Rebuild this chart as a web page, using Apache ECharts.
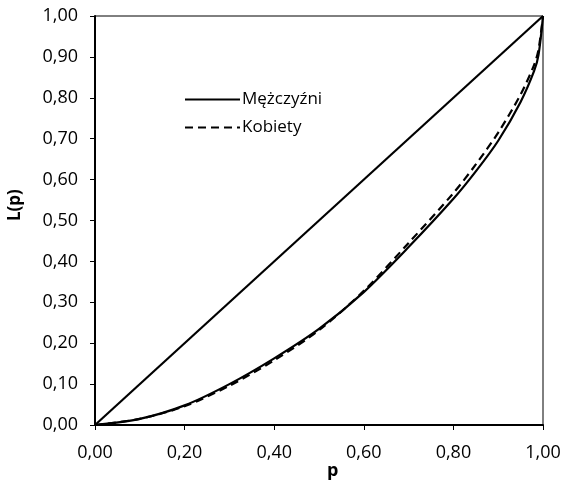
<!DOCTYPE html>
<html>
<head>
<meta charset="utf-8">
<script src="https://cdn.jsdelivr.net/npm/echarts@6/dist/echarts.min.js"></script>
<style>html,body{margin:0;padding:0;background:#fff}#c{width:565px;height:484px}</style>
</head>
<body>
<div id="c"></div>
<script>
var diagP = [0, 1];
var diagL = [0, 1];
var menP = [0, 0.1, 0.2, 0.3, 0.4, 0.5, 0.6, 0.7, 0.8, 0.85, 0.9, 0.95, 0.98, 0.99, 1];
var menL = [0, 0.015, 0.048, 0.100, 0.163, 0.235, 0.325, 0.435, 0.553, 0.620, 0.695, 0.790, 0.865, 0.905, 1];
var womenP = [0, 0.1, 0.2, 0.3, 0.4, 0.5, 0.6, 0.7, 0.8, 0.85, 0.9, 0.95, 0.98, 0.99, 1];
var womenL = [0, 0.015, 0.046, 0.096, 0.158, 0.232, 0.328, 0.445, 0.567, 0.637, 0.715, 0.808, 0.880, 0.918, 1];
var seriesNames = ['Mężczyźni', 'Kobiety'];

function pairs(a, b) { return a.map(function (v, i) { return [v, b[i]]; }); }
function fmt(v) { return v.toFixed(2).replace('.', ','); }

var FONT = 'Open Sans';
var chart = echarts.init(document.getElementById('c'), null, { renderer: 'canvas' });
chart.setOption({
  animation: false,
  backgroundColor: '#fff',
  grid: { left: 95, right: 22, top: 16, bottom: 59, show: true, borderColor: '#000', borderWidth: 1 },
  legend: {
    data: [
      { name: seriesNames[0] },
      { name: seriesNames[1] }
    ],
    orient: 'vertical',
    left: 179, top: 86,
    itemWidth: 55, itemHeight: 14, itemGap: 11,
    itemStyle: { opacity: 0 },
    lineStyle: { width: 2 },
    textStyle: { fontFamily: FONT, fontSize: 17, color: '#000', padding: [0, 0, 0, -3] },
    selectedMode: false
  },
  xAxis: {
    type: 'value', min: 0, max: 1, interval: 0.2,
    axisLine: { lineStyle: { color: '#000', width: 2 } },
    axisTick: { show: true, length: 5, lineStyle: { color: '#000', width: 1 } },
    axisLabel: { formatter: fmt, fontFamily: FONT, fontSize: 18, color: '#000', margin: 19 },
    splitLine: { show: false }
  },
  yAxis: {
    type: 'value', min: 0, max: 1, interval: 0.1,
    axisLine: { show: true, lineStyle: { color: '#000', width: 2 } },
    axisTick: { show: true, length: 5, lineStyle: { color: '#000', width: 1 } },
    axisLabel: { formatter: fmt, fontFamily: FONT, fontSize: 18, color: '#000', margin: 17 },
    splitLine: { show: false }
  },
  graphic: [
    { type: 'text', left: 333 - 6, top: 462, style: { text: 'p', font: 'bold 18px "Open Sans"', fill: '#000' } },
    { type: 'text', x: 7, y: 221, rotation: Math.PI / 2, style: { text: 'L(p)', font: 'bold 17px "Open Sans"', fill: '#000' } }
  ],
  series: [
    { type: 'line', name: 'diag', data: pairs(diagP, diagL), showSymbol: false, symbol: 'none',
      lineStyle: { color: '#000', width: 2.2 }, silent: true },
    { type: 'line', name: seriesNames[0], data: pairs(menP, menL), smooth: 0.3, showSymbol: false, symbol: 'none',
      lineStyle: { color: '#000', width: 2.2, type: 'solid' }, itemStyle: { color: '#000' } },
    { type: 'line', name: seriesNames[1], data: pairs(womenP, womenL), smooth: 0.3, showSymbol: false, symbol: 'none',
      lineStyle: { color: '#000', width: 2.2, type: [8, 5] }, itemStyle: { color: '#000' } }
  ]
});
</script>
</body>
</html>
